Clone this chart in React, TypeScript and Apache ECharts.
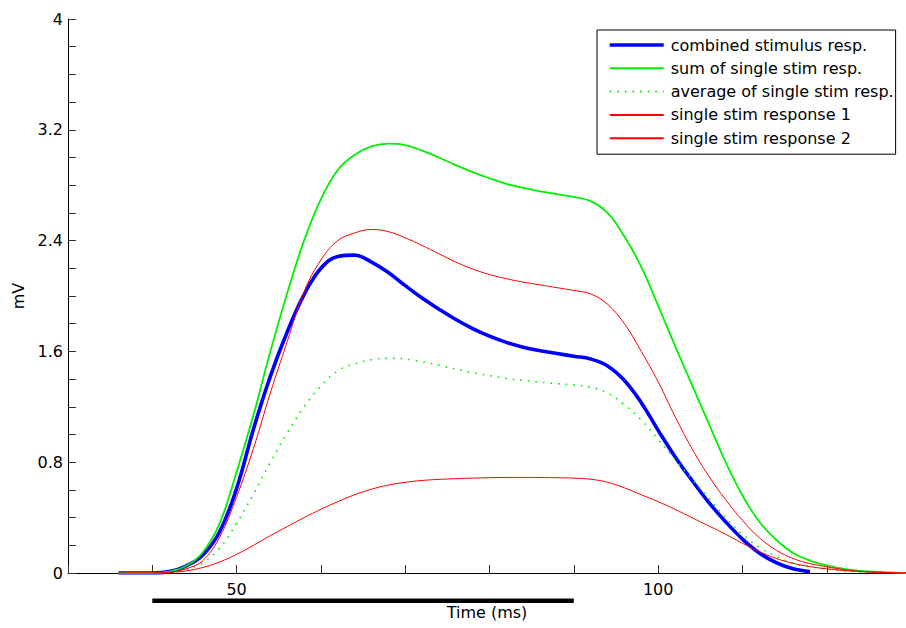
import React, { useEffect, useRef } from 'react';
import * as echarts from 'echarts';

// Time axis of the recordings (ms)
const timeMs = [
  36, 38, 40, 42, 44, 46, 48, 50, 52, 54, 56, 58, 60, 62, 64, 66, 68, 70, 72, 74,
  76, 78, 80, 82, 84, 86, 88, 90, 92, 94, 96, 98, 100, 102, 104, 106, 108, 110, 112, 114,
  116, 118, 120, 122, 124, 126, 128, 130,
];

// combined stimulus response (mV)
const combinedResp = [
  0, 0, 0, 0.01, 0.05, 0.13, 0.3, 0.61, 1.04, 1.42, 1.74, 2.01, 2.2, 2.285, 2.295, 2.245, 2.17, 2.075, 1.985, 1.905,
  1.83, 1.765, 1.71, 1.665, 1.63, 1.605, 1.585, 1.565, 1.545, 1.495, 1.39, 1.23, 1.03, 0.84, 0.67, 0.51, 0.37, 0.245, 0.145, 0.075,
  0.03, 0.01, null, null, null, null, null, null,
];

// sum of single stim responses (mV)
const sumResp = [
  0, 0, 0, 0.01, 0.05, 0.15, 0.36, 0.73, 1.14, 1.6, 2.02, 2.4, 2.7, 2.91, 3.02, 3.08, 3.1, 3.09, 3.05, 3.0,
  2.945, 2.895, 2.85, 2.81, 2.78, 2.755, 2.735, 2.715, 2.685, 2.6, 2.43, 2.21, 1.93, 1.64, 1.36, 1.08, 0.8, 0.56, 0.37, 0.24,
  0.145, 0.09, 0.055, 0.03, 0.016, 0.008, 0.003, 0,
];

// average of single stim responses (mV)
const avgResp = [
  0, 0, 0, 0.005, 0.025, 0.075, 0.18, 0.36, 0.57, 0.8, 1.01, 1.2, 1.35, 1.46, 1.51, 1.54, 1.55, 1.545, 1.525, 1.5,
  1.472, 1.447, 1.425, 1.405, 1.39, 1.378, 1.367, 1.357, 1.342, 1.3, 1.215, 1.105, 0.965, 0.82, 0.68, 0.54, 0.4, 0.28, 0.185, 0.12,
  0.072, 0.045, 0.028, 0.015, 0.008, 0.004, 0.002, 0,
];

// single stim response 1 (mV)
const singleResp1 = [
  0, 0, 0, 0.005, 0.03, 0.09, 0.26, 0.55, 0.9, 1.3, 1.67, 2.03, 2.26, 2.4, 2.455, 2.48, 2.465, 2.42, 2.365, 2.305,
  2.245, 2.195, 2.155, 2.125, 2.1, 2.08, 2.06, 2.04, 2.015, 1.94, 1.8, 1.6, 1.38, 1.13, 0.9, 0.7, 0.53, 0.38, 0.255, 0.165,
  0.105, 0.068, 0.045, 0.025, 0.012, 0.006, 0.002, 0,
];

// single stim response 2 (mV)
const singleResp2 = [
  0, 0, 0, 0.005, 0.015, 0.04, 0.08, 0.135, 0.2, 0.27, 0.335, 0.4, 0.46, 0.515, 0.565, 0.605, 0.635, 0.655, 0.668, 0.676,
  0.681, 0.685, 0.688, 0.69, 0.69, 0.69, 0.688, 0.685, 0.677, 0.655, 0.615, 0.565, 0.515, 0.46, 0.4, 0.34, 0.28, 0.215, 0.155, 0.105,
  0.07, 0.046, 0.03, 0.018, 0.01, 0.005, 0.002, 0,
];

// stimulus period bar (ms) drawn below the axis
const stimPeriodMs = [40, 90];
const stimBarLevel = -0.2;

const seriesNames = [
  'combined stimulus resp.',
  'sum of single stim resp.',
  'average of single stim resp.',
  'single stim response 1',
  'single stim response 2',
];

const xLabelValues = [50, 100];
const yLabelStep = 0.8;

const FONT = 'DejaVu Sans';

export default function App() {
  const ref = useRef<HTMLDivElement>(null);

  useEffect(() => {
    const chart = echarts.init(ref.current as HTMLDivElement, null, { renderer: 'svg' });
    const pairs = (vals: (number | null)[]) => timeMs.map((t, i) => [t, vals[i]]);

    const lineSeries = (name: string, vals: (number | null)[], color: string, width: number, type: any = 'solid') => ({
      name,
      type: 'line',
      data: pairs(vals),
      symbol: 'none',
      smooth: 0.4,
      lineStyle: { color, width, type },
      itemStyle: { color },
      emphasis: { disabled: true },
      z: 2,
    });

    const option: any = {
      animation: false,
      backgroundColor: '#ffffff',
      grid: { left: 68, right: 0, top: 19, bottom: 55, containLabel: false, outerBoundsMode: 'none' },
      legend: {
        orient: 'vertical',
        left: 597,
        top: 30,
        data: [
          { name: seriesNames[0], lineStyle: { width: 3.4 } },
          { name: seriesNames[1] },
          { name: seriesNames[2] },
          { name: seriesNames[3] },
          { name: seriesNames[4] },
        ],
        itemWidth: 54,
        itemHeight: 16,
        itemGap: 7.3,
        padding: [7, 2, 8, 11],
        borderColor: '#000',
        borderWidth: 1,
        borderRadius: 0,
        backgroundColor: '#fff',
        selectedMode: false,
        itemStyle: { opacity: 0 },
        textStyle: { fontFamily: FONT, fontSize: 16, color: '#000', lineHeight: 16, padding: [0, 0, 0, 2] },
      },
      xAxis: {
        type: 'value',
        min: 30,
        max: 129.4,
        interval: 10,
        name: 'Time (ms)',
        nameLocation: 'middle',
        nameGap: 31,
        nameTextStyle: { fontFamily: FONT, fontSize: 16, color: '#000' },
        axisLine: { show: true, onZero: false, lineStyle: { color: '#000', width: 1 } },
        axisTick: { show: true, inside: true, length: 8, lineStyle: { color: '#333' } },
        axisLabel: {
          fontFamily: FONT,
          fontSize: 16,
          color: '#000',
          margin: 8,
          formatter: (v: number) => (xLabelValues.includes(Math.round(v)) ? String(Math.round(v)) : ''),
        },
        splitLine: { show: false },
      },
      yAxis: {
        type: 'value',
        min: 0,
        max: 4,
        interval: 0.2,
        name: 'mV',
        nameLocation: 'middle',
        nameGap: 40,
        nameRotate: 90,
        nameTextStyle: { fontFamily: FONT, fontSize: 16, color: '#000' },
        axisLine: { show: true, lineStyle: { color: '#000', width: 1 } },
        axisTick: { show: true, inside: true, length: 8, lineStyle: { color: '#333' } },
        axisLabel: {
          fontFamily: FONT,
          fontSize: 16,
          color: '#000',
          margin: 5,
          showMinLabel: true,
          showMaxLabel: true,
          formatter: (v: number) => {
            const k = v / yLabelStep;
            return Math.abs(k - Math.round(k)) < 1e-6 ? String(Math.round(v * 10) / 10) : '';
          },
        },
        splitLine: { show: false },
      },
      series: [
        lineSeries(seriesNames[0], combinedResp, '#0000ff', 3.6),
        lineSeries(seriesNames[1], sumResp, '#00f000', 1.8),
        lineSeries(seriesNames[2], avgResp, '#00f000', 1.6, [1.6, 6]),
        lineSeries(seriesNames[3], singleResp1, '#ff0000', 1),
        lineSeries(seriesNames[4], singleResp2, '#ff0000', 1),
        {
          name: 'stimulus',
          type: 'line',
          data: stimPeriodMs.map((t) => [t, stimBarLevel]),
          symbol: 'none',
          clip: false,
          lineStyle: { color: '#000', width: 4.5 },
          emphasis: { disabled: true },
          silent: true,
        },
      ],
    };

    chart.setOption(option);
    return () => chart.dispose();
  }, []);

  return (
    <div
      ref={ref}
      style={{ position: 'fixed', left: 0, top: 0, width: 906, height: 628, background: '#fff' }}
    />
  );
}
